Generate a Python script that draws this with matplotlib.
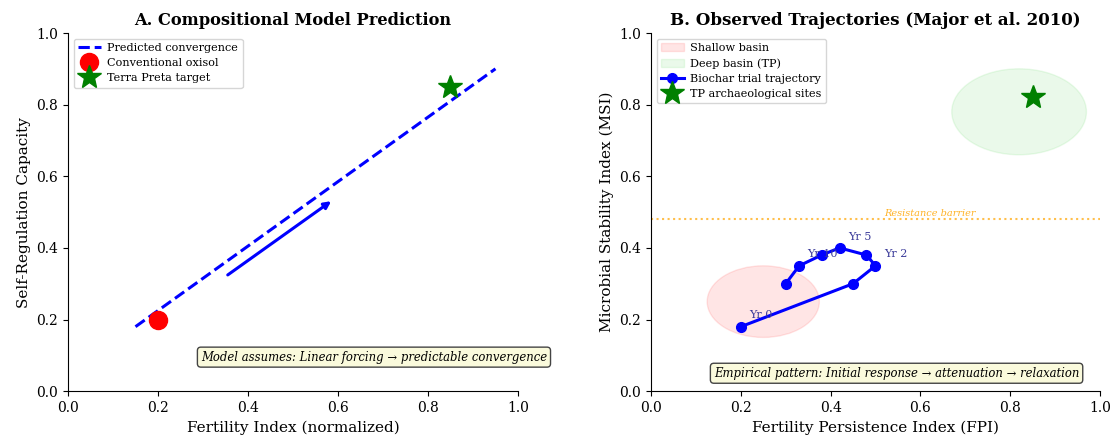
import matplotlib
matplotlib.use("Agg")
import matplotlib.pyplot as plt
from matplotlib.patches import Ellipse

plt.rcParams['font.family'] = ['DejaVu Serif']

# Panel A data
pred_x = [0.15, 0.95]
pred_y = [0.18, 0.90]
oxisol = (0.2, 0.2)
tp_target = (0.85, 0.85)
arrow_start = (0.35, 0.32)
arrow_end = (0.59, 0.535)

# Panel B data
traj_x = [0.20, 0.45, 0.50, 0.48, 0.42, 0.38, 0.33, 0.30]
traj_y = [0.18, 0.30, 0.35, 0.38, 0.40, 0.38, 0.35, 0.30]
year_labels = {0: "Yr 0", 2: "Yr 2", 4: "Yr 5", 6: "Yr 10"}
shallow = (0.25, 0.25, 0.25, 0.20)  # cx, cy, width, height
deep = (0.82, 0.78, 0.30, 0.24)
tp_sites = (0.85, 0.82)
barrier_y = 0.48

fig = plt.figure(figsize=(11.11, 4.4), dpi=100)
ax1 = fig.add_axes([0.0612, 0.111, 0.405, 0.814])
ax2 = fig.add_axes([0.586, 0.111, 0.404, 0.814])

# --- A ---
ax1.plot(pred_x, pred_y, "--", color="blue", lw=2.2, label="Predicted convergence")
ax1.plot(*oxisol, "o", color="red", ms=13, label="Conventional oxisol")
ax1.plot(*tp_target, "*", color="green", ms=18, label="Terra Preta target")
ax1.annotate("", xy=arrow_end, xytext=arrow_start,
             arrowprops=dict(arrowstyle="-|>", color="blue", lw=2.2, mutation_scale=10))
ax1.text(0.68, 0.095, "Model assumes: Linear forcing \u2192 predictable convergence",
         transform=ax1.transAxes, ha="center", va="center", fontsize=8.4, style="italic",
         bbox=dict(boxstyle="round,pad=0.3", fc="#fafadc", ec="#444444"))
ax1.set_title("A. Compositional Model Prediction", fontweight="bold", fontsize=11.7)
ax1.set_xlabel("Fertility Index (normalized)", fontsize=11)
ax1.set_ylabel("Self-Regulation Capacity", fontsize=11)
ax1.legend(loc="upper left", fontsize=8.1, labelspacing=0.45, handletextpad=0.6)

# --- B ---
ax2.add_patch(Ellipse(shallow[:2], shallow[2], shallow[3], color="red", alpha=0.1,
                      label="Shallow basin"))
ax2.add_patch(Ellipse(deep[:2], deep[2], deep[3], color="limegreen", alpha=0.1,
                      label="Deep basin (TP)"))
ax2.plot(traj_x, traj_y, "o-", color="blue", lw=2.2, ms=7, label="Biochar trial trajectory")
for i, lab in year_labels.items():
    ax2.annotate(lab, (traj_x[i], traj_y[i]), xytext=(6, 6), textcoords="offset points",
                 fontsize=8, color="#3b3b9a")
ax2.plot(*tp_sites, "*", color="green", ms=18, label="TP archaeological sites")
ax2.axhline(barrier_y, color="orange", ls=":", lw=1.5, alpha=0.7)
ax2.text(0.52, barrier_y + 0.01, "Resistance barrier", fontsize=7, style="italic",
         color="orange", alpha=0.85)
ax2.text(0.547, 0.05, "Empirical pattern: Initial response \u2192 attenuation \u2192 relaxation",
         transform=ax2.transAxes, ha="center", va="center", fontsize=8.4, style="italic",
         bbox=dict(boxstyle="round,pad=0.3", fc="#fafadc", ec="#444444"))
ax2.set_title("B. Observed Trajectories (Major et al. 2010)", fontweight="bold", fontsize=12)
ax2.set_xlabel("Fertility Persistence Index (FPI)", fontsize=11)
ax2.set_ylabel("Microbial Stability Index (MSI)", fontsize=11)
ax2.legend(loc="upper left", fontsize=8.1, labelspacing=0.45, handletextpad=0.6)

for ax in (ax1, ax2):
    ax.set_xlim(0, 1)
    ax.set_ylim(0, 1)
    ax.spines["top"].set_visible(False)
    ax.spines["right"].set_visible(False)

fig.savefig("out.png", dpi=100)
